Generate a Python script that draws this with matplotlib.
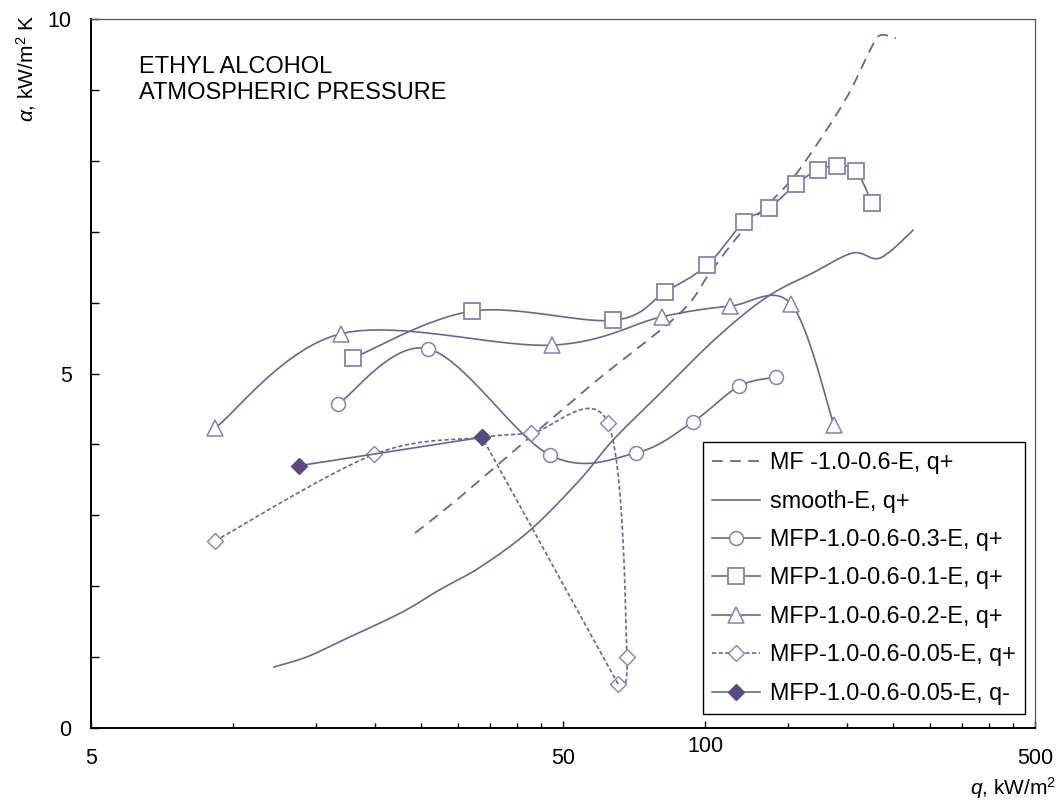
import numpy as np
import matplotlib
matplotlib.use('Agg')
import matplotlib.pyplot as plt
from matplotlib.ticker import FixedLocator, FixedFormatter, NullFormatter

plt.rcParams['font.family'] = ['Liberation Sans', 'DejaVu Sans']
plt.rcParams['mathtext.fontset'] = 'custom'
plt.rcParams['mathtext.rm'] = 'Liberation Sans'
plt.rcParams['mathtext.it'] = 'Liberation Sans:italic'

# data (q in kW/m2, alpha in kW/m2 K)
mf_q = [24.3, 29.8, 40.5, 49.3, 59.9, 88.5, 102.4, 120.3, 149.1, 169.3, 199.8, 223.6, 234.8, 253.8]
mf_a = [2.75, 3.22, 3.98, 4.46, 4.94, 5.85, 6.42, 7.02, 7.66, 8.15, 8.90, 9.56, 9.77, 9.73]

sm_q = [12.2, 14.3, 16.6, 22.6, 27.4, 33.4, 42.6, 54.3, 63.8, 80.3, 106.0, 135.3, 169.3, 205.8, 234.8, 275.7]
sm_a = [0.86, 1.00, 1.20, 1.62, 1.95, 2.27, 2.79, 3.50, 4.06, 4.72, 5.51, 6.08, 6.42, 6.70, 6.63, 7.02]

p03_q = [16.7, 25.9, 46.9, 71.4, 94.3, 118.0, 141.4]
p03_a = [4.57, 5.35, 3.85, 3.88, 4.32, 4.82, 4.95]

p01_q = [17.95, 32.1, 63.8, 82.3, 101.0, 120.9, 136.6, 155.8, 173.5, 190.3, 208.8, 225.8]
p01_a = [5.22, 5.88, 5.75, 6.15, 6.53, 7.14, 7.33, 7.67, 7.87, 7.93, 7.86, 7.40]

p02_q = [9.16, 16.9, 47.4, 81.0, 112.9, 152.1, 187.6]
p02_a = [4.23, 5.56, 5.40, 5.80, 5.95, 5.98, 4.27]

# last point closes back on the q- point at 33.7
p005_q = [9.16, 19.9, 33.7, 42.8, 62.3, 68.3, 65.4, 33.7]
p005_a = [2.64, 3.86, 4.10, 4.16, 4.30, 1.00, 0.62, 4.10]

p005m_q = [13.8, 33.7]
p005m_a = [3.70, 4.10]

labels = ['MF -1.0-0.6-E, q+', 'smooth-E, q+', 'MFP-1.0-0.6-0.3-E, q+', 'MFP-1.0-0.6-0.1-E, q+',
          'MFP-1.0-0.6-0.2-E, q+', 'MFP-1.0-0.6-0.05-E, q+', 'MFP-1.0-0.6-0.05-E, q-']

x_major = [5, 50, 100, 500]
x_minor = [10, 15, 20, 25, 30, 35, 40, 45, 150, 200, 250, 300, 350, 400, 450]


def smooth(x, y, n=20):
    # excel style bezier smoothing, done in log(q) space
    P = np.column_stack([np.log10(x), np.asarray(y, float)])
    P = np.vstack([P[0], P, P[-1]])
    t = np.linspace(0, 1, n)[:, None]
    out = []
    for i in range(1, len(P) - 2):
        p0, p1, p2, p3 = P[i - 1], P[i], P[i + 1], P[i + 2]
        c1 = p1 + (p2 - p0) / 6
        c2 = p2 - (p3 - p1) / 6
        seg = (1 - t)**3 * p1 + 3 * (1 - t)**2 * t * c1 + 3 * (1 - t) * t**2 * c2 + t**3 * p2
        out.append(seg if i == 1 else seg[1:])
    S = np.vstack(out)
    marks = [k * (n - 1) for k in range(len(x))]
    return 10**S[:, 0], S[:, 1], marks


lc = '#6f6396'
mc = '#8b7fb0'
dark = '#5a4a7e'

fig = plt.figure(figsize=(10.6, 8), dpi=100)
ax = fig.add_axes([91 / 1060, 72 / 800, 944 / 1060, 709 / 800])

x, y, m = smooth(mf_q, mf_a)
ax.plot(x, y, color=lc, lw=1.3, ls=(0, (6, 4)), label=labels[0])
x, y, m = smooth(sm_q, sm_a)
ax.plot(x, y, color=lc, lw=1.2, label=labels[1])
x, y, m = smooth(p03_q, p03_a)
ax.plot(x, y, color=lc, lw=1.2, marker='o', ms=10, mfc='white', mec=mc, mew=1.1, markevery=m, label=labels[2])
x, y, m = smooth(p01_q, p01_a)
ax.plot(x, y, color=lc, lw=1.2, marker='s', ms=11, mfc='white', mec=mc, mew=1.3, markevery=m, label=labels[3])
x, y, m = smooth(p02_q, p02_a)
ax.plot(x, y, color=lc, lw=1.2, marker='^', ms=11, mfc='white', mec=mc, mew=1.1, markevery=m, label=labels[4])
# smoothed part, then the straight closing leg back to the q- point
x, y, m = smooth(p005_q[:-1], p005_a[:-1])
ax.plot(x, y, color=lc, lw=1.2, ls=(0, (2.5, 1.5)), marker='D', ms=8, mfc='white', mec=mc, mew=1.0,
        markevery=m, label=labels[5])
ax.plot(p005_q[-2:], p005_a[-2:], color=lc, lw=1.2, ls=(0, (2.5, 1.5)))
ax.plot(p005m_q, p005m_a, color=lc, lw=1.2, marker='D', ms=8, mfc=dark, mec=dark, label=labels[6])

ax.set_xscale('log')
ax.set_xlim(5, 500)
ax.set_ylim(0, 10)
ax.xaxis.set_major_locator(FixedLocator(x_major))
ax.xaxis.set_major_formatter(FixedFormatter([str(v) for v in x_major]))
ax.xaxis.set_minor_locator(FixedLocator(x_minor))
ax.xaxis.set_minor_formatter(NullFormatter())
ax.yaxis.set_major_locator(FixedLocator([0, 5, 10]))
ax.yaxis.set_minor_locator(FixedLocator(range(1, 10)))

ax.tick_params(axis='both', which='both', direction='in', labelsize=15.5, colors='black')
ax.tick_params(axis='x', which='major', length=5, width=1, pad=14.5)
ax.tick_params(axis='x', which='minor', length=3.5, width=1)
ax.tick_params(axis='y', which='both', length=6, width=1, pad=14)
ax.tick_params(top=False, right=False, which='both')
ax.xaxis.get_major_ticks()[2].set_pad(6)

for s in ['left', 'bottom']:
    ax.spines[s].set_linewidth(1.4)
for s in ['top', 'right']:
    ax.spines[s].set_linewidth(0.9)
    ax.spines[s].set_color('#555555')

ax.set_ylabel(r'$\alpha$, kW/m$^2$ K', fontsize=15, loc='top')
ax.yaxis.set_label_coords(-0.056, 1.006)
ax.set_xlabel(r'$q$, kW/m$^2$', fontsize=15, loc='right')
ax.xaxis.set_label_coords(1.022, -0.066)

fig.text(139 / 1060, 1 - 56 / 800, 'ETHYL ALCOHOL\nATMOSPHERIC PRESSURE', fontsize=17, va='top',
         linespacing=1.21)

leg = ax.legend(loc='lower right', bbox_to_anchor=(0.989, 0.0197), borderaxespad=0, fontsize=16.8,
                fancybox=False, framealpha=1, edgecolor='black', handlelength=2.06, handletextpad=0.39,
                labelspacing=0.66, borderpad=0.4)
leg.get_frame().set_linewidth(1.0)

fig.savefig('out.png', dpi=100)
